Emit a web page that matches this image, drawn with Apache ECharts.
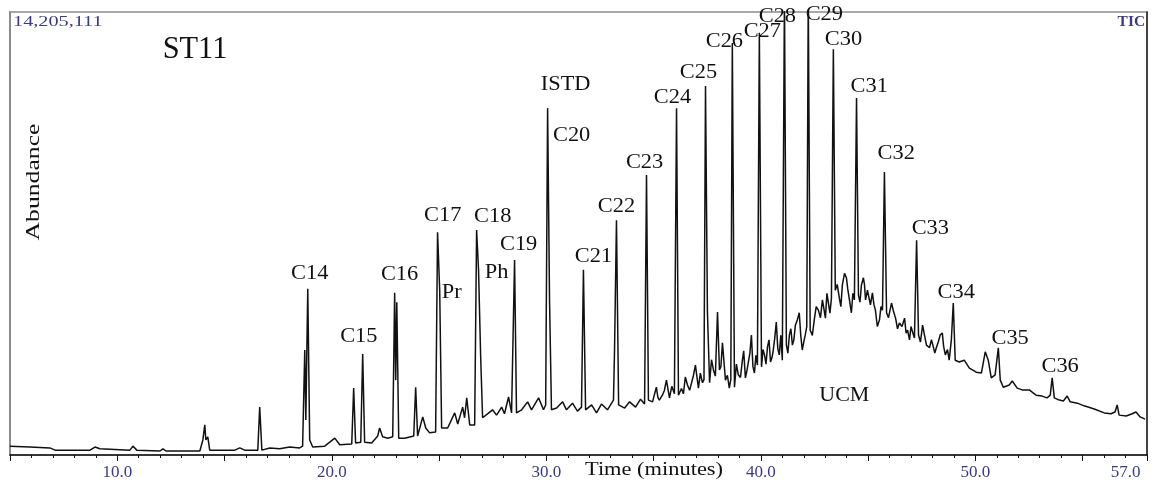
<!DOCTYPE html>
<html><head><meta charset="utf-8">
<script src="https://cdn.jsdelivr.net/npm/echarts@6/dist/echarts.min.js"></script>
<style>html,body{margin:0;padding:0;background:#fff}#c{width:1155px;height:489px}</style>
</head><body><div id="c"></div>
<script>
// Retention time (minutes) and relative abundance (% of full scale 14,205,111)
const retentionTime = [
5.00,5.93,6.86,7.10,8.73,8.96,9.19,10.59,10.73,10.91,11.99,12.13,12.27,13.85,13.99,14.08,14.13,14.22,14.31,
15.48,15.71,15.94,16.55,16.64,16.74,17.11,17.57,18.04,18.50,18.64,18.74,18.79,18.88,18.97,19.11,19.67,20.14,
20.37,20.93,21.02,21.11,21.35,21.44,21.53,21.86,22.14,22.23,22.37,22.61,22.84,22.93,22.98,23.03,23.12,23.40,
23.82,23.91,24.00,24.24,24.38,24.56,24.84,24.93,25.03,25.12,25.40,25.73,25.87,26.10,26.19,26.29,26.43,26.66,
26.75,26.84,26.94,27.03,27.26,27.49,27.68,27.92,28.05,28.24,28.38,28.52,28.61,28.85,29.13,29.31,29.64,29.87,
29.97,30.06,30.15,30.24,30.48,30.76,30.94,31.22,31.45,31.64,31.73,31.83,32.11,32.34,32.57,32.85,33.13,33.18,
33.27,33.37,33.65,33.88,34.16,34.39,34.58,34.67,34.76,34.95,35.13,35.27,35.41,35.60,35.74,35.97,36.07,36.16,
36.39,36.58,36.77,36.95,37.09,37.28,37.42,37.51,37.61,37.79,37.98,38.07,38.21,38.35,38.53,38.67,38.77,38.95,
39.14,39.28,39.42,39.56,39.70,39.84,39.93,40.03,40.17,40.31,40.45,40.58,40.72,40.86,41.00,41.10,41.19,41.33,
41.47,41.61,41.79,41.93,42.07,42.21,42.30,42.49,42.68,42.87,43.01,43.15,43.29,43.38,43.47,43.66,43.80,43.99,
44.13,44.22,44.36,44.46,44.55,44.69,44.78,44.88,44.97,45.11,45.20,45.34,45.53,45.67,45.76,45.86,46.09,46.28,
46.46,46.70,46.84,46.93,47.07,47.16,47.26,47.35,47.54,47.72,47.86,48.04,48.18,48.36,48.46,48.60,48.78,48.88,
48.97,49.06,49.25,49.48,49.72,50.04,50.28,50.46,50.60,50.74,50.92,51.07,51.16,51.30,51.58,51.72,51.95,52.18,
52.51,52.83,53.11,53.34,53.49,53.58,53.68,53.91,54.10,54.28,54.42,54.75,55.07,55.54,56.01,56.32,56.51,56.61,
56.70,57.03,57.31,57.49,57.68,57.91
];
const abundance = [
2.0,1.8,1.6,1.1,1.1,1.8,1.4,1.1,2.0,1.1,0.9,1.4,0.9,0.9,3.4,6.8,3.4,4.1,1.1,
1.1,1.6,1.1,1.1,10.8,1.1,1.6,1.4,1.8,1.6,2.0,23.7,7.9,37.5,3.4,1.8,2.0,3.8,
2.3,2.5,15.1,2.7,2.9,22.8,2.9,2.7,4.3,6.1,4.1,3.8,4.1,36.6,16.9,34.5,3.8,3.8,
4.3,15.3,4.3,8.6,6.1,5.0,5.2,50.3,37.2,6.1,6.1,9.5,7.0,10.8,8.4,12.9,6.8,6.8,
50.8,41.8,22.1,8.4,9.3,10.2,9.0,10.8,9.3,13.1,9.5,44.0,9.5,10.2,12.0,10.2,12.9,10.2,
11.3,78.3,35.0,10.2,10.6,12.0,10.2,11.7,9.9,10.8,41.8,10.2,11.3,9.5,11.5,10.2,12.4,23.7,
53.0,11.3,10.6,12.0,10.8,12.6,11.5,63.2,12.4,12.0,15.3,12.4,13.5,16.9,12.9,13.8,78.3,13.5,
13.8,15.8,14.2,20.3,15.1,16.3,83.3,32.3,16.3,19.2,32.3,19.2,25.3,16.9,15.1,93.0,15.3,18.1,
21.4,17.4,21.0,27.1,18.5,20.3,95.3,19.9,22.6,24.4,21.0,23.7,30.0,22.6,21.4,104,24.8,27.1,
24.8,29.3,32.1,23.7,27.1,104,28.2,30.5,32.7,35.0,30.9,34.3,35.4,91.6,37.2,35.4,38.4,40.0,
35.0,32.1,35.0,80.6,36.1,38.4,40.0,35.0,37.2,33.9,36.6,32.7,30.5,32.7,63.9,32.1,34.3,30.9,
29.8,30.9,28.2,26.0,27.8,26.4,48.5,27.1,29.3,24.8,24.2,24.4,24.2,27.1,27.5,22.6,21.4,26.0,
34.3,21.4,21.0,21.4,19.6,18.7,18.5,23.3,21.4,17.4,18.1,24.2,16.9,15.3,15.8,16.7,15.1,14.7,
14.7,13.5,13.3,12.9,13.5,17.4,12.9,12.4,12.2,13.3,12.0,11.7,11.1,10.4,9.5,9.3,9.7,11.3,
9.0,8.8,9.3,9.7,8.6,8.1
];
// Extra unresolved-hump noise read between the main samples (35-49 min)
const humpTime = [
35.20,35.50,35.85,36.30,36.48,36.68,36.86,37.18,37.35,37.70,37.88,38.14,38.44,38.60,
38.86,39.05,39.20,39.35,39.49,39.63,39.77,40.10,40.24,40.38,40.52,40.65,40.79,40.93,
41.26,41.40,41.54,41.70,41.86,42.00,42.14,42.40,42.58,42.78,42.94,43.08,43.22,43.56,
43.73,43.90,44.05,44.29,44.62,44.83,45.04,45.27,45.43,45.60,45.95,46.18,46.37,46.58,
46.77,47.00,47.44,47.63,47.95,48.11,48.27,48.52,48.70
];
const humpAbundance = [
13.0,14.5,15.5,15.0,17.6,14.6,18.0,18.5,17.0,21.5,17.8,20.0,18.0,17.0,
20.5,17.5,23.5,19.0,23.0,20.0,22.5,23.8,20.5,26.0,22.0,26.5,24.0,27.0,
23.0,28.5,26.0,30.5,27.0,25.5,29.0,27.0,33.5,31.0,33.0,36.5,32.0,38.5,
33.5,41.0,37.5,36.5,34.5,38.5,35.5,34.0,29.0,33.5,31.0,32.5,28.5,29.0,
27.5,29.0,25.5,27.0,26.0,23.0,25.5,24.5,23.8
];
// Peak / region annotations and where their text sits (in data coordinates)
const peakLabels = ['C14','C15','C16','C17','Pr','C18','Ph','C19','ISTD','C20','C21','C22','C23','C24','C25',
  'C26','C27','C28','C29','C30','C31','C32','C33','C34','C35','C36','UCM'];
const labelTime = [18.97,21.26,23.16,25.17,25.59,27.50,27.68,28.71,30.90,31.18,32.20,33.27,34.58,35.88,37.09,
  38.30,40.07,40.77,42.96,43.85,45.05,46.31,47.90,49.11,51.62,53.95,43.89];
const labelAbundance = [40.9,26.6,40.6,54.0,36.6,53.7,41.1,47.4,83.5,72.0,44.7,56.0,65.9,80.6,86.2,
  93.2,95.5,98.9,99.3,93.7,83.1,67.9,51.0,36.6,26.2,19.9,13.3];
const xTickLabels = [10, 20, 30, 40, 50, 57];
const fullScale = '14,205,111';
const sampleName = 'ST11';
const traceName = 'TIC';
const xName = 'Time (minutes)';
const yName = 'Abundance';

const SERIF = '"Liberation Serif","Times New Roman",serif';
const trace = retentionTime.map((t, i) => [t, abundance[i]])
  .concat(humpTime.map((t, i) => [t, humpAbundance[i]]))
  .sort((a, b) => a[0] - b[0]);

const chart = echarts.init(document.getElementById('c'));
const option = {
  animation: false,
  backgroundColor: '#fff',
  grid: {left: 10, right: 8, top: 12, bottom: 34, show: true, borderColor: '#a8a8a8', borderWidth: 2, backgroundColor: 'transparent'},
  xAxis: [{
    type: 'value', min: 5, max: 58, interval: 1,
    axisLine: {show: true, lineStyle: {color: '#111', width: 1.5}},
    axisTick: {show: true, length: 3, lineStyle: {color: '#111'}},
    splitLine: {show: false},
    axisLabel: {
      interval: 0, margin: 9, color: '#3a3a88', fontFamily: SERIF, fontSize: 17,
      showMinLabel: false, showMaxLabel: false,
      formatter: v => xTickLabels.indexOf(Math.round(v)) >= 0 ? Math.round(v).toFixed(1) : ''
    }
  }, {
    type: 'value', min: 5, max: 58, interval: 5, position: 'bottom',
    axisLine: {show: false}, axisTick: {show: true, length: 6, lineStyle: {color: '#111'}},
    axisLabel: {show: false}, splitLine: {show: false}
  }],
  yAxis: [{
    type: 'value', min: 0, max: 100, position: 'left',
    axisLine: {show: true, lineStyle: {color: '#8c8c8c', width: 2}},
    axisTick: {show: false}, axisLabel: {show: false}, splitLine: {show: false}
  }, {
    type: 'value', min: 0, max: 100, position: 'right',
    axisLine: {show: true, lineStyle: {color: '#222', width: 1.5}},
    axisTick: {show: false}, axisLabel: {show: false}, splitLine: {show: false}
  }],
  series: [{
    type: 'line', name: traceName, xAxisIndex: 0, yAxisIndex: 0,
    data: trace, symbol: 'none', clip: true,
    lineStyle: {color: '#111', width: 1.5}
  }]
};
chart.setOption(option);

function txt(text, x, y, size, opts) {
  opts = opts || {};
  return {
    type: 'text', x: x, y: y, z: 20, scaleX: opts.sx || 1, rotation: opts.rot || 0,
    style: {
      text: text, font: (opts.weight || 'normal') + ' ' + size + 'px ' + SERIF, fill: opts.fill || '#111',
      align: opts.align || 'center', verticalAlign: 'middle',
      textAlign: opts.align || 'center', textVerticalAlign: 'middle'
    }
  };
}
const g = [];
peakLabels.forEach((name, i) => {
  const p = chart.convertToPixel({gridIndex: 0}, [labelTime[i], labelAbundance[i]]);
  g.push(txt(name, p[0], p[1], name === 'UCM' ? 20 : 20, {sx: name === 'UCM' ? 1.1 : 1.12}));
});
g.push(txt(fullScale, 13, 22, 15, {align: 'left', fill: '#3a3a88', sx: 1.35}));
g.push(txt(traceName, 1145, 22, 14, {align: 'right', fill: '#3a3a88', sx: 1.1, weight: 'bold'}));
g.push(txt(sampleName, 195, 50, 32, {sx: 0.95}));
g.push(txt(yName, 34, 182, 19, {rot: Math.PI / 2, sx: 1.35}));
g.push(txt(xName, 654, 470, 19, {sx: 1.18}));
chart.setOption({graphic: g});
</script>
</body></html>
